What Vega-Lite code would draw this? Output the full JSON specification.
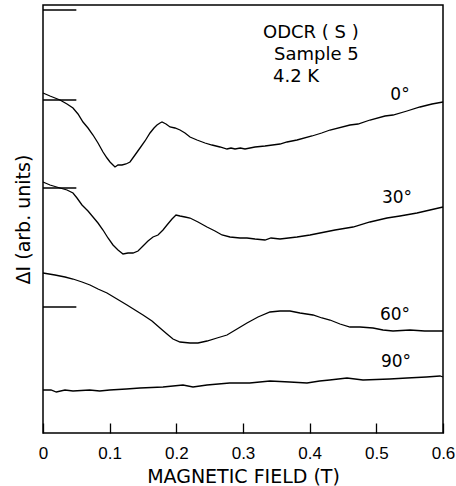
{
  "$schema": "https://vega.github.io/schema/vega-lite/v6.json",
  "width": 400,
  "height": 428,
  "autosize": "none",
  "padding": {"left": 43, "top": 5, "right": 13, "bottom": 53},
  "config": {
    "view": {"stroke": "black", "strokeWidth": 1.5},
    "font": "DejaVu Sans"
  },
  "datasets": {
    "curves": [
      {"angle": "0", "x": 0, "y": 340}, {"angle": "0", "x": 0.0105, "y": 337}, {"angle": "0", "x": 0.0255, "y": 333}, {"angle": "0", "x": 0.036, "y": 329}, {"angle": "0", "x": 0.045, "y": 325}, {"angle": "0", "x": 0.0525, "y": 319}, {"angle": "0", "x": 0.06, "y": 311}, {"angle": "0", "x": 0.0675, "y": 305}, {"angle": "0", "x": 0.075, "y": 298}, {"angle": "0", "x": 0.0825, "y": 290}, {"angle": "0", "x": 0.09, "y": 281}, {"angle": "0", "x": 0.096, "y": 275}, {"angle": "0", "x": 0.1005, "y": 271}, {"angle": "0", "x": 0.105, "y": 268}, {"angle": "0", "x": 0.108, "y": 266}, {"angle": "0", "x": 0.1125, "y": 268}, {"angle": "0", "x": 0.1185, "y": 268}, {"angle": "0", "x": 0.1245, "y": 269}, {"angle": "0", "x": 0.1305, "y": 271}, {"angle": "0", "x": 0.138, "y": 278}, {"angle": "0", "x": 0.1455, "y": 285}, {"angle": "0", "x": 0.153, "y": 292}, {"angle": "0", "x": 0.1605, "y": 300}, {"angle": "0", "x": 0.1665, "y": 305}, {"angle": "0", "x": 0.171, "y": 308}, {"angle": "0", "x": 0.1755, "y": 310}, {"angle": "0", "x": 0.1785, "y": 311}, {"angle": "0", "x": 0.1845, "y": 309}, {"angle": "0", "x": 0.1905, "y": 306}, {"angle": "0", "x": 0.198, "y": 305}, {"angle": "0", "x": 0.2055, "y": 303}, {"angle": "0", "x": 0.213, "y": 300}, {"angle": "0", "x": 0.2205, "y": 296}, {"angle": "0", "x": 0.231, "y": 293}, {"angle": "0", "x": 0.243, "y": 290}, {"angle": "0", "x": 0.2535, "y": 288}, {"angle": "0", "x": 0.2655, "y": 286}, {"angle": "0", "x": 0.276, "y": 284}, {"angle": "0", "x": 0.282, "y": 285}, {"angle": "0", "x": 0.288, "y": 284}, {"angle": "0", "x": 0.296, "y": 285}, {"angle": "0", "x": 0.303, "y": 284}, {"angle": "0", "x": 0.318, "y": 286}, {"angle": "0", "x": 0.333, "y": 287}, {"angle": "0", "x": 0.3555, "y": 289}, {"angle": "0", "x": 0.366, "y": 291}, {"angle": "0", "x": 0.381, "y": 293}, {"angle": "0", "x": 0.4035, "y": 297}, {"angle": "0", "x": 0.418, "y": 300}, {"angle": "0", "x": 0.4305, "y": 303}, {"angle": "0", "x": 0.4605, "y": 308}, {"angle": "0", "x": 0.4725, "y": 309}, {"angle": "0", "x": 0.4905, "y": 313}, {"angle": "0", "x": 0.513, "y": 317}, {"angle": "0", "x": 0.525, "y": 318}, {"angle": "0", "x": 0.546, "y": 322}, {"angle": "0", "x": 0.5655, "y": 326}, {"angle": "0", "x": 0.5835, "y": 329}, {"angle": "0", "x": 0.6, "y": 331},
      {"angle": "30", "x": 0, "y": 251}, {"angle": "30", "x": 0.0105, "y": 248}, {"angle": "30", "x": 0.0255, "y": 245}, {"angle": "30", "x": 0.036, "y": 243}, {"angle": "30", "x": 0.045, "y": 240}, {"angle": "30", "x": 0.051, "y": 235}, {"angle": "30", "x": 0.0585, "y": 228}, {"angle": "30", "x": 0.0675, "y": 222}, {"angle": "30", "x": 0.075, "y": 216}, {"angle": "30", "x": 0.0825, "y": 210}, {"angle": "30", "x": 0.09, "y": 203}, {"angle": "30", "x": 0.0975, "y": 195}, {"angle": "30", "x": 0.105, "y": 188}, {"angle": "30", "x": 0.1125, "y": 183}, {"angle": "30", "x": 0.12, "y": 179}, {"angle": "30", "x": 0.1275, "y": 180}, {"angle": "30", "x": 0.135, "y": 180}, {"angle": "30", "x": 0.1425, "y": 182}, {"angle": "30", "x": 0.15, "y": 187}, {"angle": "30", "x": 0.1575, "y": 192}, {"angle": "30", "x": 0.165, "y": 196}, {"angle": "30", "x": 0.1725, "y": 198}, {"angle": "30", "x": 0.18, "y": 203}, {"angle": "30", "x": 0.186, "y": 208}, {"angle": "30", "x": 0.1935, "y": 214}, {"angle": "30", "x": 0.1995, "y": 218}, {"angle": "30", "x": 0.2055, "y": 217}, {"angle": "30", "x": 0.213, "y": 216}, {"angle": "30", "x": 0.2205, "y": 215}, {"angle": "30", "x": 0.2325, "y": 211}, {"angle": "30", "x": 0.246, "y": 206}, {"angle": "30", "x": 0.258, "y": 202}, {"angle": "30", "x": 0.2685, "y": 198}, {"angle": "30", "x": 0.2805, "y": 196}, {"angle": "30", "x": 0.2955, "y": 195}, {"angle": "30", "x": 0.306, "y": 195}, {"angle": "30", "x": 0.318, "y": 194}, {"angle": "30", "x": 0.333, "y": 193}, {"angle": "30", "x": 0.342, "y": 195}, {"angle": "30", "x": 0.3555, "y": 194}, {"angle": "30", "x": 0.381, "y": 196}, {"angle": "30", "x": 0.4005, "y": 198}, {"angle": "30", "x": 0.4155, "y": 200}, {"angle": "30", "x": 0.438, "y": 203}, {"angle": "30", "x": 0.465, "y": 206}, {"angle": "30", "x": 0.4905, "y": 211}, {"angle": "30", "x": 0.516, "y": 215}, {"angle": "30", "x": 0.5355, "y": 217}, {"angle": "30", "x": 0.561, "y": 220}, {"angle": "30", "x": 0.5805, "y": 223}, {"angle": "30", "x": 0.6, "y": 226},
      {"angle": "60", "x": 0, "y": 160}, {"angle": "60", "x": 0.018, "y": 158}, {"angle": "60", "x": 0.033, "y": 156}, {"angle": "60", "x": 0.045, "y": 154}, {"angle": "60", "x": 0.0585, "y": 151}, {"angle": "60", "x": 0.0705, "y": 148}, {"angle": "60", "x": 0.0825, "y": 144}, {"angle": "60", "x": 0.096, "y": 140}, {"angle": "60", "x": 0.111, "y": 134}, {"angle": "60", "x": 0.126, "y": 128}, {"angle": "60", "x": 0.138, "y": 123}, {"angle": "60", "x": 0.15, "y": 118}, {"angle": "60", "x": 0.1635, "y": 112}, {"angle": "60", "x": 0.1755, "y": 105}, {"angle": "60", "x": 0.186, "y": 99}, {"angle": "60", "x": 0.195, "y": 94}, {"angle": "60", "x": 0.2055, "y": 91}, {"angle": "60", "x": 0.2205, "y": 90}, {"angle": "60", "x": 0.2325, "y": 90}, {"angle": "60", "x": 0.246, "y": 92}, {"angle": "60", "x": 0.261, "y": 95}, {"angle": "60", "x": 0.276, "y": 98}, {"angle": "60", "x": 0.291, "y": 104}, {"angle": "60", "x": 0.306, "y": 110}, {"angle": "60", "x": 0.3225, "y": 116}, {"angle": "60", "x": 0.3405, "y": 121}, {"angle": "60", "x": 0.3555, "y": 122}, {"angle": "60", "x": 0.3705, "y": 122}, {"angle": "60", "x": 0.3855, "y": 120}, {"angle": "60", "x": 0.405, "y": 118}, {"angle": "60", "x": 0.4185, "y": 115}, {"angle": "60", "x": 0.4305, "y": 113}, {"angle": "60", "x": 0.4455, "y": 109}, {"angle": "60", "x": 0.4605, "y": 106}, {"angle": "60", "x": 0.4755, "y": 106}, {"angle": "60", "x": 0.495, "y": 105}, {"angle": "60", "x": 0.51, "y": 103}, {"angle": "60", "x": 0.525, "y": 102}, {"angle": "60", "x": 0.5505, "y": 103}, {"angle": "60", "x": 0.5725, "y": 102}, {"angle": "60", "x": 0.6, "y": 102},
      {"angle": "90", "x": 0, "y": 43}, {"angle": "90", "x": 0.012, "y": 43}, {"angle": "90", "x": 0.02, "y": 41}, {"angle": "90", "x": 0.033, "y": 43}, {"angle": "90", "x": 0.045, "y": 42}, {"angle": "90", "x": 0.07, "y": 43}, {"angle": "90", "x": 0.085, "y": 42}, {"angle": "90", "x": 0.1, "y": 43}, {"angle": "90", "x": 0.125, "y": 44}, {"angle": "90", "x": 0.1455, "y": 45}, {"angle": "90", "x": 0.18, "y": 46}, {"angle": "90", "x": 0.21, "y": 48}, {"angle": "90", "x": 0.225, "y": 46}, {"angle": "90", "x": 0.246, "y": 48}, {"angle": "90", "x": 0.28, "y": 50}, {"angle": "90", "x": 0.31, "y": 50}, {"angle": "90", "x": 0.3405, "y": 52}, {"angle": "90", "x": 0.37, "y": 51}, {"angle": "90", "x": 0.396, "y": 50}, {"angle": "90", "x": 0.415, "y": 52}, {"angle": "90", "x": 0.43, "y": 53}, {"angle": "90", "x": 0.456, "y": 55}, {"angle": "90", "x": 0.48, "y": 53}, {"angle": "90", "x": 0.52, "y": 54}, {"angle": "90", "x": 0.546, "y": 55}, {"angle": "90", "x": 0.575, "y": 56}, {"angle": "90", "x": 0.5955, "y": 57}, {"angle": "90", "x": 0.6, "y": 56}
    ],
    "baselines": [
      {"y": 423}, {"y": 333}, {"y": 245}, {"y": 126}
    ],
    "labels": [
      {"x": 0.5355, "y": 338, "text": "0°"},
      {"x": 0.531, "y": 235, "text": "30°"},
      {"x": 0.528, "y": 118, "text": "60°"},
      {"x": 0.5295, "y": 71, "text": "90°"}
    ],
    "notes": [
      {"x": 0.33, "y": 400, "text": "ODCR ( S )"},
      {"x": 0.3465, "y": 378, "text": "Sample 5"},
      {"x": 0.345, "y": 356, "text": "4.2 K"}
    ]
  },
  "layer": [
    {
      "data": {"name": "curves"},
      "mark": {"type": "line", "color": "black", "strokeWidth": 1.3},
      "encoding": {
        "x": {
          "field": "x", "type": "quantitative",
          "scale": {"domain": [0, 0.6], "nice": false, "zero": false},
          "axis": {
            "title": "MAGNETIC FIELD (T)",
            "values": [0, 0.1, 0.2, 0.3, 0.4, 0.5, 0.6],
            "format": "~g",
            "domain": false,
            "grid": false,
            "tickColor": "black",
            "tickSize": -10,
            "tickWidth": 1.3,
            "labelFont": "Liberation Sans",
            "labelFontSize": 17,
            "labelColor": "black",
            "labelPadding": 22,
            "labelFlush": false,
            "titleFont": "DejaVu Sans",
            "titleFontSize": 19,
            "titleFontWeight": "normal",
            "titleColor": "black",
            "titlePadding": 6
          }
        },
        "y": {
          "field": "y", "type": "quantitative",
          "scale": {"domain": [0, 428], "nice": false, "zero": false},
          "axis": {
            "title": "ΔI (arb. units)",
            "labels": false,
            "ticks": false,
            "domain": false,
            "grid": false,
            "titleFont": "DejaVu Sans",
            "titleFontSize": 19,
            "titleFontWeight": "normal",
            "titleColor": "black",
            "titlePadding": 10
          }
        },
        "detail": {"field": "angle"}
      }
    },
    {
      "data": {"name": "baselines"},
      "mark": {"type": "rule", "color": "black", "strokeWidth": 1.3},
      "encoding": {
        "x": {"datum": 0, "type": "quantitative"},
        "x2": {"datum": 0.05},
        "y": {"field": "y", "type": "quantitative"}
      }
    },
    {
      "data": {"name": "labels"},
      "mark": {"type": "text", "fontSize": 17, "align": "center", "baseline": "middle", "color": "black"},
      "encoding": {
        "x": {"field": "x", "type": "quantitative"},
        "y": {"field": "y", "type": "quantitative"},
        "text": {"field": "text"}
      }
    },
    {
      "data": {"name": "notes"},
      "mark": {"type": "text", "fontSize": 18, "align": "left", "baseline": "middle", "color": "black"},
      "encoding": {
        "x": {"field": "x", "type": "quantitative"},
        "y": {"field": "y", "type": "quantitative"},
        "text": {"field": "text"}
      }
    }
  ]
}
